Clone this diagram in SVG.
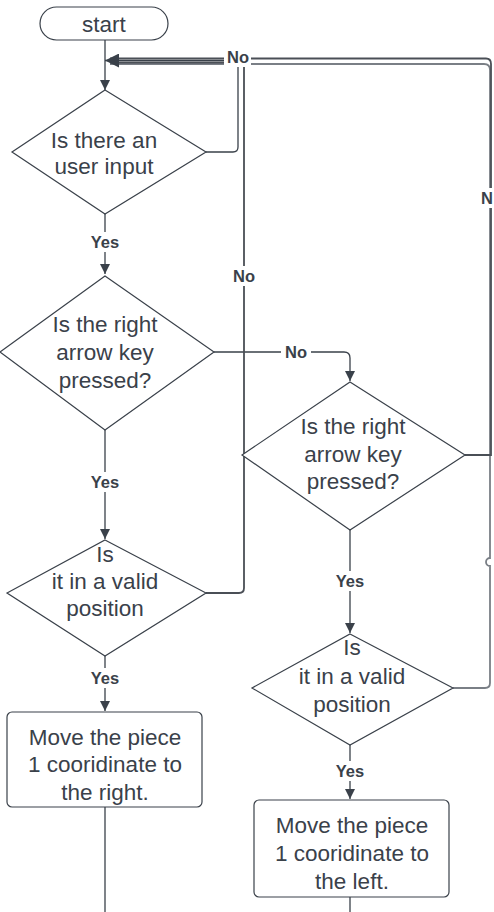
<svg xmlns="http://www.w3.org/2000/svg" width="494" height="912" viewBox="0 0 494 912">
<defs>
<style>
.shape{fill:#fff;stroke:#3a414a;stroke-width:1.2}
.t{font-family:"Liberation Sans",Arial,sans-serif;font-size:22.5px;fill:#3a414a;text-anchor:middle}
.l{font-family:"Liberation Sans",Arial,sans-serif;font-size:16.5px;font-weight:bold;fill:#3a414a;text-anchor:middle}
.c{fill:none;stroke:#3a414a;stroke-width:1.3}
.c2{fill:none;stroke:#4a4f56;stroke-width:1.8}
.c3{fill:none;stroke:#7a7f86;stroke-width:1.8}
.lb{fill:#fff}
</style>
<marker id="ah" viewBox="0 0 10 10" refX="10" refY="5" markerWidth="10" markerHeight="14" markerUnits="userSpaceOnUse" orient="auto">
<path d="M0,0 L10,5 L0,10 Z" fill="#3a414a"/>
</marker>
<marker id="ahb" viewBox="0 0 10 10" refX="10" refY="5" markerWidth="19" markerHeight="14" markerUnits="userSpaceOnUse" orient="auto">
<path d="M0,0 L10,5 L0,10 Z" fill="#3a414a"/>
</marker>
</defs>
<g id="connectors">
<path class="c" d="M105,40 V90" marker-end="url(#ah)"/>
<path class="c" d="M105,214 V274" marker-end="url(#ah)"/>
<path class="c" d="M105,430 V539" marker-end="url(#ah)"/>
<path class="c" d="M105,656 V711" marker-end="url(#ah)"/>
<path class="c" d="M105,807 V912"/>
<path class="c" d="M214,352 H344 Q350,352 350,358 V381" marker-end="url(#ah)"/>
<path class="c" d="M350,530 V633" marker-end="url(#ah)"/>
<path class="c" d="M350,745 V799" marker-end="url(#ah)"/>
<path class="c" d="M350,897 V912"/>
<path class="c3" d="M453,688 H485 Q490,688 490,683 V566 A4,4 0 0 1 490,558 V70 Q490,64 484,64 H110"/>
<path class="c2" d="M465,455 H491 V64 Q491,58.5 486,58.5 H110"/>
<path class="c2" d="M206,593 H239 Q244,593 244,588 V62.5 H110"/>
<path class="c" d="M206,152 H233 Q238,152 238,147 V60.5 H105" marker-end="url(#ahb)"/>
<rect class="lb" x="224" y="47" width="27" height="20"/>
<text class="l" x="238" y="63">No</text>
<rect class="lb" x="229" y="266" width="30" height="20"/>
<text class="l" x="244" y="282">No</text>
<rect class="lb" x="281" y="342" width="30" height="20"/>
<text class="l" x="296" y="358">No</text>
<rect class="lb" x="478" y="188" width="16" height="20"/>
<text class="l" x="487" y="204">N</text>
<rect class="lb" x="86" y="232" width="38" height="20"/>
<text class="l" x="105" y="248">Yes</text>
<rect class="lb" x="86" y="472" width="38" height="20"/>
<text class="l" x="105" y="488">Yes</text>
<rect class="lb" x="86" y="668" width="38" height="20"/>
<text class="l" x="105" y="684">Yes</text>
<rect class="lb" x="331" y="571" width="38" height="20"/>
<text class="l" x="350" y="587">Yes</text>
<rect class="lb" x="331" y="761" width="38" height="20"/>
<text class="l" x="350" y="777">Yes</text>
</g>
<g id="start">
<rect class="shape" x="40" y="7" width="128" height="33" rx="16.5"/>
<text class="t" x="104" y="32">start</text>
</g>
<g id="d1">
<path class="shape" d="M105,90 L206,152 L105,214 L12,152 Z"/>
<text class="t" x="104" y="148">Is there an</text>
<text class="t" x="104" y="174">user input</text>
</g>
<g id="d2">
<path class="shape" d="M105,276 L214,352 L105,430 L0,352 Z"/>
<text class="t" x="105" y="332">Is the right</text>
<text class="t" x="105" y="360">arrow key</text>
<text class="t" x="105" y="388">pressed?</text>
</g>
<g id="d3">
<path class="shape" d="M105,540 L206,593 L105,656 L7,593 Z"/>
<text class="t" x="105" y="562">Is</text>
<text class="t" x="105" y="589">it in a valid</text>
<text class="t" x="105" y="616">position</text>
</g>
<g id="box1">
<rect class="shape" x="7" y="712" width="195" height="95" rx="5"/>
<text class="t" x="105" y="745">Move the piece</text>
<text class="t" x="105" y="772">1 cooridinate to</text>
<text class="t" x="105" y="800">the right.</text>
</g>
<g id="d4">
<path class="shape" d="M350,382 L465,455 L350,530 L242,455 Z"/>
<text class="t" x="353" y="434">Is the right</text>
<text class="t" x="353" y="462">arrow key</text>
<text class="t" x="353" y="489">pressed?</text>
</g>
<g id="d5">
<path class="shape" d="M350,634 L453,688 L350,745 L252,688 Z"/>
<text class="t" x="352" y="655">Is</text>
<text class="t" x="352" y="684">it in a valid</text>
<text class="t" x="352" y="712">position</text>
</g>
<g id="box2">
<rect class="shape" x="254" y="800" width="195" height="97" rx="5"/>
<text class="t" x="352" y="833">Move the piece</text>
<text class="t" x="352" y="861">1 cooridinate to</text>
<text class="t" x="352" y="889">the left.</text>
</g>
</svg>
